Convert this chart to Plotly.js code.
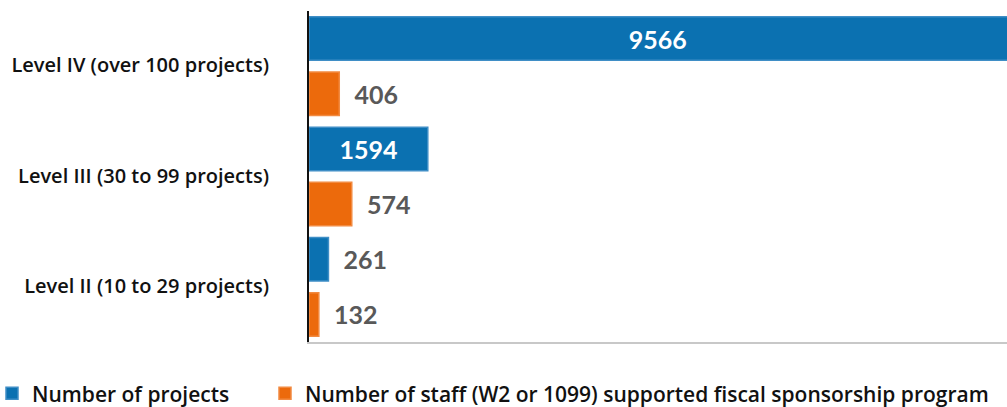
<!DOCTYPE html>
<html>
<head>
<meta charset="utf-8">
<script src="https://cdn.plot.ly/plotly-3.0.1.min.js"></script>
<style>
html,body{margin:0;padding:0;overflow:hidden;background:#fff;width:1007px;height:407px;}
#chart{width:1400px;height:407px;}
</style>
</head>
<body>
<div id="chart"></div>
<script>
const categories = ["Level IV (over 100 projects)", "Level III (30 to 99 projects)", "Level II (10 to 29 projects)"];
const seriesNames = ["Number of projects", "Number of staff (W2 or 1099) supported fiscal sponsorship program"];
const projects = [9566, 1594, 261];
const staff = [406, 574, 132];

const colors = ["#0B71B1", "#EC6A0C"];
const edgeColors = ["#3F8EC6", "#F28A40"];
const xMax = 14640;          // axis extent (plot runs past the visible page edge)
const visibleMax = 9370;     // value at the visible right edge of the page
const insideThreshold = 1000;
const outsidePad = "\u00a0\u00a0";
const clippedPad = "\u00a0\u00a0\u2009";

function labelTemplate(v) {
  if (v > visibleMax) return "%{x}" + clippedPad;
  if (v > insideThreshold) return "%{x}";
  return outsidePad + "%{x}";
}

function makeTrace(vals, name, color, edge, legendwidth) {
  const t = {
    type: "bar",
    orientation: "h",
    name: name,
    y: categories,
    x: vals,
    marker: {color: color, line: {color: edge, width: 1.5}},
    texttemplate: vals.map(labelTemplate),
    textposition: vals.map(v => v > insideThreshold ? "inside" : "outside"),
    insidetextanchor: "middle",
    insidetextfont: {family: "Lato", size: 25, color: "#ffffff", weight: 700},
    outsidetextfont: {family: "Lato", size: 25, color: "#595959", weight: 700},
    constraintext: "none",
    hoverinfo: "x+y"
  };
  if (legendwidth) t.legendwidth = legendwidth;
  return t;
}

const data = [
  makeTrace(projects, seriesNames[0], colors[0], edgeColors[0], 236),
  makeTrace(staff, seriesNames[1], colors[1], edgeColors[1])
];

const layout = {
  width: 1400,
  height: 407,
  margin: {l: 309, r: 0, t: 11, b: 65, pad: 0},
  barmode: "group",
  bargap: 0,
  bargroupgap: 0.21,
  paper_bgcolor: "#ffffff",
  plot_bgcolor: "#ffffff",
  showlegend: true,
  font: {family: "Open Sans", color: "#111111"},
  xaxis: {
    range: [0, xMax],
    showgrid: false,
    zeroline: false,
    showticklabels: false,
    ticks: "",
    showline: true,
    linecolor: "#c8c8c8",
    linewidth: 2,
    fixedrange: true
  },
  yaxis: {
    type: "category",
    autorange: "reversed",
    showgrid: false,
    zeroline: false,
    ticks: "",
    showline: true,
    linecolor: "#111111",
    linewidth: 2,
    ticklabelstandoff: 34,
    ticklabelshift: 1,
    tickfont: {family: "Open Sans", size: 20, color: "#111111", weight: 600},
    fixedrange: true
  },
  legend: {
    orientation: "h",
    xref: "container",
    yref: "container",
    x: 0,
    xanchor: "left",
    y: 0.083,
    yanchor: "top",
    indentation: -8,
    bgcolor: "rgba(0,0,0,0)",
    font: {family: "Open Sans", size: 21, color: "#111111", weight: 600},
    traceorder: "normal",
    itemclick: false,
    itemdoubleclick: false
  }
};

Plotly.newPlot("chart", data, layout, {displayModeBar: false, staticPlot: true});
</script>
</body>
</html>
